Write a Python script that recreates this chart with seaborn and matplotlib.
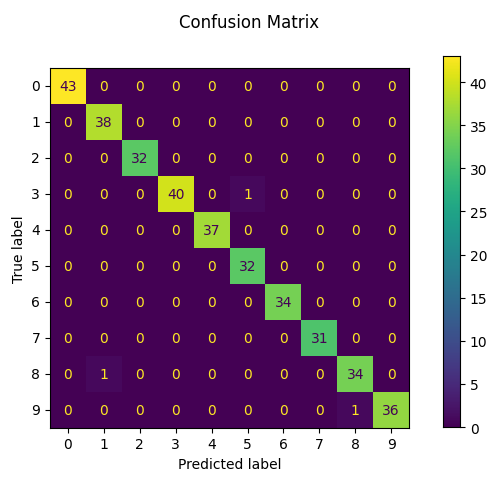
import numpy as np
import matplotlib
matplotlib.use("Agg")
import matplotlib.pyplot as plt
import seaborn as sns

labels = [str(i) for i in range(10)]
cm = np.array([
    [43,0,0,0,0,0,0,0,0,0],
    [0,38,0,0,0,0,0,0,0,0],
    [0,0,32,0,0,0,0,0,0,0],
    [0,0,0,40,0,1,0,0,0,0],
    [0,0,0,0,37,0,0,0,0,0],
    [0,0,0,0,0,32,0,0,0,0],
    [0,0,0,0,0,0,34,0,0,0],
    [0,0,0,0,0,0,0,31,0,0],
    [0,1,0,0,0,0,0,0,34,0],
    [0,0,0,0,0,0,0,0,1,36],
])

fig = plt.figure(figsize=(4.99, 4.81), dpi=100)
ax = fig.add_axes([0.10, 0.106, 0.72, 0.753])
cax = fig.add_axes([0.888, 0.11, 0.034, 0.771])
sns.heatmap(cm, ax=ax, cbar_ax=cax, cmap="viridis", annot=True, fmt="d",
            square=True, xticklabels=labels, yticklabels=labels,
            annot_kws={"fontsize": 10})
cmap = plt.get_cmap("viridis")
thr = (cm.max() + cm.min()) / 2
for t in ax.texts:
    v = int(t.get_text())
    t.set_color(cmap(0.0) if v >= thr else cmap(1.0))
for s in ax.spines.values():
    s.set_visible(True)
for s in cax.spines.values():
    s.set_visible(True)
ax.tick_params(axis="y", rotation=0)
ax.set_xlabel("Predicted label")
ax.set_ylabel("True label")
cax.set_yticks(range(0, 45, 5))
fig.suptitle("Confusion Matrix", y=0.97)
fig.savefig("out.png", dpi=100)
